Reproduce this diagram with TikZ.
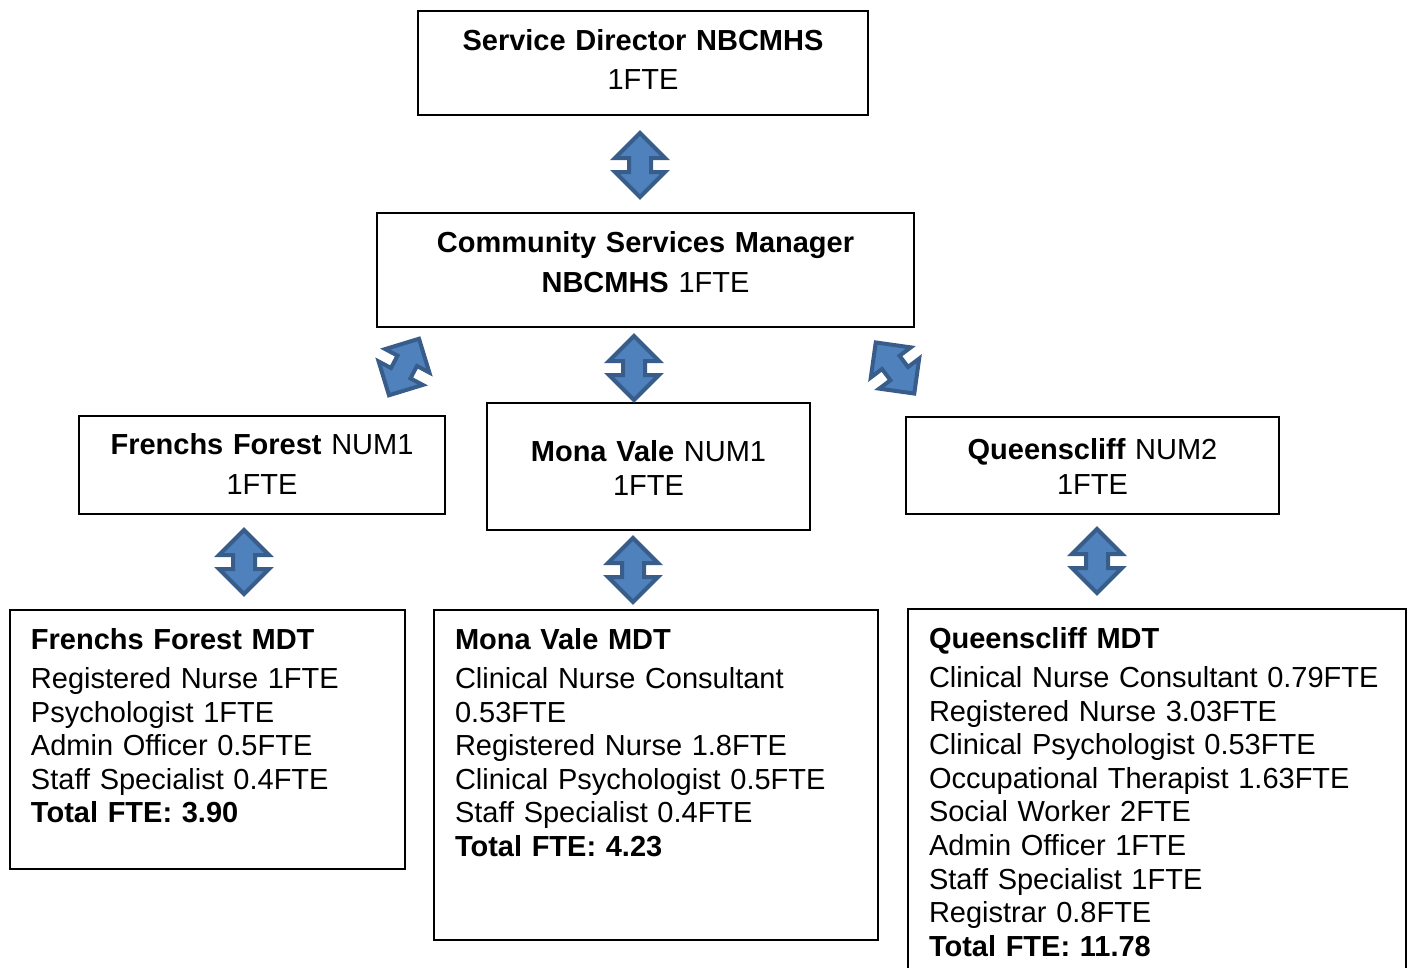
\documentclass[tikz,border=0pt]{standalone}
\usepackage{fontspec}
\setmainfont{Liberation Sans}
\usepackage{tikz}
\definecolor{arrowfill}{RGB}{79, 129, 189}
\definecolor{arrowedge}{RGB}{56, 93, 138}
\newdimen\px
\px=0.02cm

\tikzset{
  pics/dblarrow/.style={code={
    \draw [fill=arrowfill, draw=arrowedge, line width=4\px, line join=miter]
      (-32, 0) -- (-7, 25) -- (-7, 11) -- (7, 11) -- (7, 25) -- (32, 0) --
      (7, -25) -- (7, -11) -- (-7, -11) -- (-7, -25) -- cycle;
  }}
}

\begin{document}
\begin{tikzpicture}[x=0.02cm, y=-0.02cm,
  box/.style={draw, line width=2\px, inner sep=0pt, outer sep=0pt, align=center,
              anchor=north west, font=\fontsize{16.5}{19.12}\selectfont},
  mdt/.style={box, align=left, inner xsep=21\px}]
  \useasboundingbox (0, 0) rectangle (1412, 967);
  \clip (0, 0) rectangle (1412, 967);

  \node [box, text width=450\px, text height=39.5\px, text depth=64.5\px] (sd) at (418, 11)
    {\textbf{Service Director NBCMHS}\\[5.4\px]1FTE};
  \node [box, text width=537\px, text height=39.5\px, text depth=74.5\px] (csm) at (377, 213)
    {\textbf{Community Services Manager}\\[6.4\px]\textbf{NBCMHS} 1FTE};

  \node [box, text width=366\px, text height=38.5\px, text depth=59.5\px] (ffnum) at (79, 416)
    {\textbf{Frenchs Forest} NUM1\\[6.4\px]1FTE};
  \node [box, text width=323\px, text height=58.5\px, text depth=68.5\px] (mvnum) at (487, 403)
    {\textbf{Mona Vale} NUM1\\1FTE};
  \node [box, text width=373\px, text height=42.5\px, text depth=54.5\px] (qnum) at (906, 417)
    {\textbf{Queenscliff} NUM2\\[1.4\px]1FTE};

  \node [mdt, text width=353\px, text height=39.5\px, text depth=219.5\px] (ffmdt) at (10, 610)
    {\textbf{Frenchs Forest MDT}\\[5.4\px]
     Registered Nurse 1FTE\\
     Psychologist 1FTE\\
     Admin Officer 0.5FTE\\
     Staff Specialist 0.4FTE\\
     \textbf{Total FTE: 3.90}};
  \node [mdt, text width=402\px, text height=39.5\px, text depth=290.5\px] (mvmdt) at (434, 610)
    {\textbf{Mona Vale MDT}\\[5.4\px]
     Clinical Nurse Consultant\\
     0.53FTE\\
     Registered Nurse 1.8FTE\\
     Clinical Psychologist 0.5FTE\\
     Staff Specialist 0.4FTE\\
     \textbf{Total FTE: 4.23}};
  \node [mdt, text width=456\px, text height=39.5\px, text depth=351.5\px] (qmdt) at (908, 609)
    {\textbf{Queenscliff MDT}\\[5.4\px]
     Clinical Nurse Consultant 0.79FTE\\
     Registered Nurse 3.03FTE\\
     Clinical Psychologist 0.53FTE\\
     Occupational Therapist 1.63FTE\\
     Social Worker 2FTE\\
     Admin Officer 1FTE\\
     Staff Specialist 1FTE\\
     Registrar 0.8FTE\\
     \textbf{Total FTE: 11.78}};

  % block arrows between the levels
  \foreach \x/\y/\r in {640/165/90, 634/368/90, 404/367/62, 895/368/-53,
                        244/562/90, 633/570/90, 1097/561/90}
    \pic [rotate=\r] at (\x, \y) {dblarrow};

\end{tikzpicture}
\end{document}
